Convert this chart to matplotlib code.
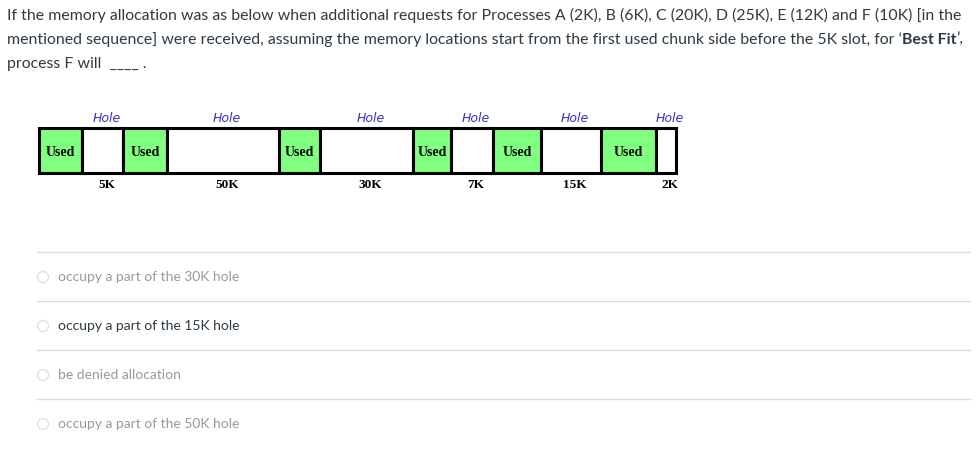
import matplotlib
matplotlib.use("Agg")
import matplotlib.pyplot as plt
from matplotlib.patches import Rectangle, Circle

kinds = ["Used","Hole","Used","Hole","Used","Hole","Used","Hole","Used","Hole","Used","Hole"]
sizes = ["", "5K", "", "50K", "", "30K", "", "7K", "", "15K", "", "2K"]
options = ["occupy a part of the 30K hole", "occupy a part of the 15K hole",
           "be denied allocation", "occupy a part of the 50K hole"]
selected = 1

edges = [39, 82, 123, 167, 279, 320, 413, 451, 493, 541, 601, 656, 676]

fig = plt.figure(figsize=(9.8, 4.49), dpi=100)
ax = fig.add_axes([0, 0, 1, 1])
ax.set_xlim(0, 980); ax.set_ylim(449, 0); ax.axis("off")
F = "Lato"

def seq(x, y, parts):
    r = fig.canvas.get_renderer()
    for s, w in parts:
        t = ax.text(x, y, s, fontsize=11.4, family=F, weight=w, color="#2d3b45", va="center")
        bb = t.get_window_extent(r)
        x += bb.width
seq(7, 15, [("If the memory allocation was as below when additional requests for Processes A (2K), B (6K), C (20K), D (25K), E (12K) and F (10K) [in the", "normal")])
seq(7, 40, [("mentioned sequence] were received, assuming the memory locations start from the first used chunk side before the 5K slot, for \u2018", "normal"), ("Best Fit", "bold"), ("\u2019,", "normal")])
seq(7, 64, [("process F will  ____ .", "normal")])

top, bot = 128, 173
for i, k in enumerate(kinds):
    x0, x1 = edges[i], edges[i + 1]
    ax.add_patch(Rectangle((x0, top), x1 - x0, bot - top, fc="#80ff80" if k == "Used" else "white",
                           ec="black", lw=2.2))
    cx = (x0 + x1) / 2
    if k == "Used":
        ax.text(cx, 152, "Used", fontsize=10, family="Liberation Serif", weight="bold", ha="center", va="center")
    else:
        ax.text(cx + 4, 119, "Hole", fontsize=9, family="DejaVu Sans", style="italic", color="#3333cc", ha="center", va="center")
        ax.text(cx + 4, 185, sizes[i], fontsize=9.5, family="Liberation Serif", weight="bold", ha="center", va="center")

for j, opt in enumerate(options):
    y = 277 + 49 * j
    ax.plot([37, 970], [y - 25, y - 25], color="#dddddd", lw=1)
    ax.add_patch(Circle((43, y), 5.5, fc="white", ec="#e0e0e0", lw=1))
    ax.text(58, y, opt, fontsize=10, family=F, color="#2d3b45" if j == selected else "#999999", va="center")

fig.savefig("out.png", dpi=100)
